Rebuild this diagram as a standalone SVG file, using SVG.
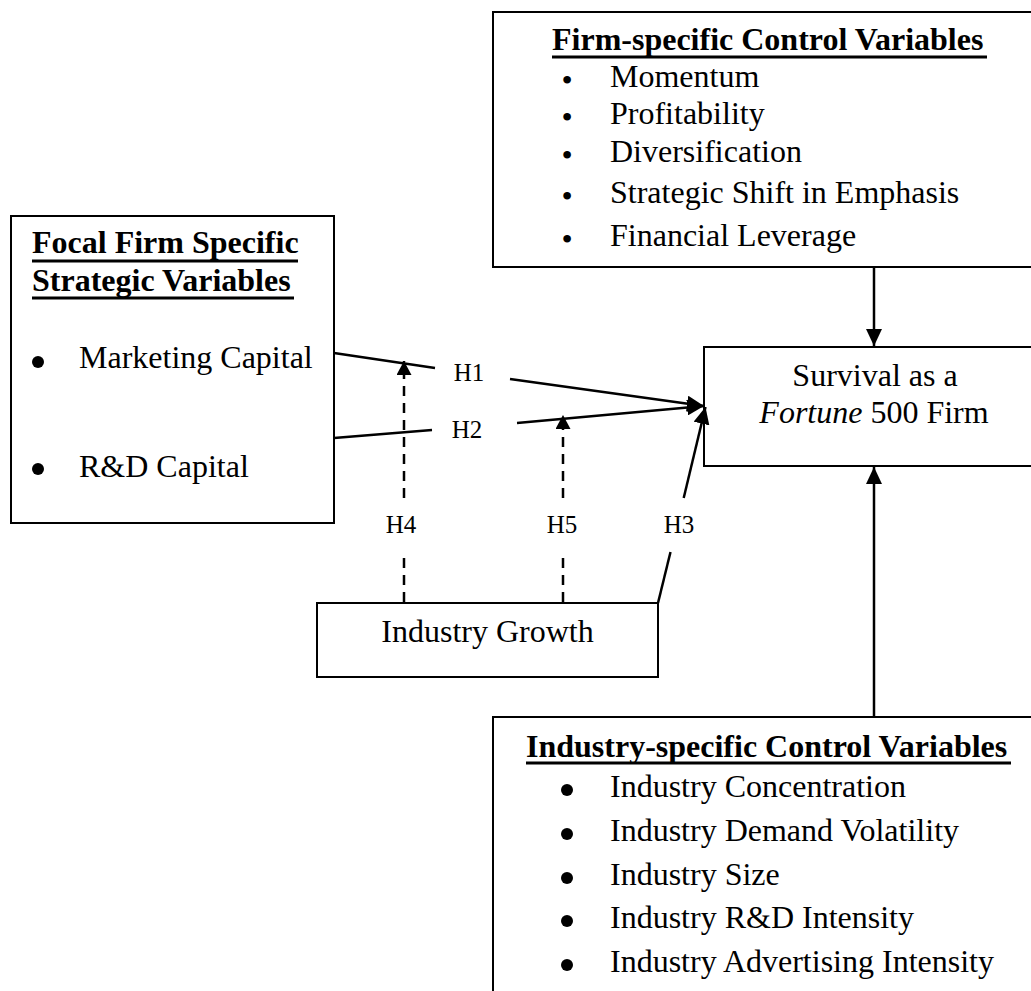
<svg xmlns="http://www.w3.org/2000/svg" width="1031" height="991" viewBox="0 0 1031 991">
<style>
.box{fill:#fff;stroke:#000;stroke-width:2}
.t{font-family:"Liberation Serif","Times New Roman",serif;font-size:32px;fill:#000}
.b{font-weight:bold}
.lbl{font-family:"Liberation Serif","Times New Roman",serif;font-size:25px;fill:#000;text-anchor:middle}
.ul{stroke:#000;stroke-width:3}
.c{fill:none;stroke:#000;stroke-width:2.5}
.d{fill:none;stroke:#000;stroke-width:2.5;stroke-dasharray:10 7}
</style>
<defs>
<marker id="ah" markerUnits="userSpaceOnUse" markerWidth="18" markerHeight="16" refX="17" refY="8" orient="auto"><path d="M0,0 L17,8 L0,16 z" fill="#000"/></marker>
<marker id="ahd" markerUnits="userSpaceOnUse" markerWidth="15" markerHeight="16" refX="14" refY="7.5" orient="auto"><path d="M0,0 L14,7.5 L0,15 z" fill="#000"/></marker>
</defs>
<rect width="1031" height="991" fill="#fff"/>
<g id="firm-controls">
<rect class="box" x="493" y="12" width="560" height="255"/>
<text class="t b" x="552" y="50">Firm-specific Control Variables</text>
<line class="ul" x1="552" y1="57" x2="987" y2="57"/>
<g class="t" text-anchor="middle">
<text x="567" y="91">•</text><text x="567" y="128">•</text><text x="567" y="166">•</text><text x="567" y="207">•</text><text x="567" y="250">•</text>
</g>
<text class="t" x="610" y="87">Momentum</text>
<text class="t" x="610" y="124">Profitability</text>
<text class="t" x="610" y="162">Diversification</text>
<text class="t" x="610" y="203">Strategic Shift in Emphasis</text>
<text class="t" x="610" y="246">Financial Leverage</text>
</g>
<g id="focal-firm">
<rect class="box" x="11" y="216" width="323" height="307"/>
<text class="t b" x="32" y="253">Focal Firm Specific</text>
<line class="ul" x1="32" y1="261" x2="298" y2="261"/>
<text class="t b" x="32" y="291">Strategic Variables</text>
<line class="ul" x1="32" y1="298" x2="294" y2="298"/>
<circle cx="38" cy="362" r="6"/>
<text class="t" x="79" y="368">Marketing Capital</text>
<circle cx="38" cy="469" r="6"/>
<text class="t" x="79" y="477">R&amp;D Capital</text>
</g>
<g id="survival">
<rect class="box" x="704" y="347" width="360" height="119"/>
<text class="t" x="875" y="386" text-anchor="middle">Survival as a</text>
<text class="t" x="874" y="423" text-anchor="middle"><tspan font-style="italic">Fortune</tspan> 500 Firm</text>
</g>
<g id="industry-growth">
<rect class="box" x="317" y="603" width="341" height="74"/>
<text class="t" x="487.5" y="642" text-anchor="middle">Industry Growth</text>
</g>
<g id="industry-controls">
<rect class="box" x="493" y="717" width="560" height="300"/>
<text class="t b" x="526" y="757">Industry-specific Control Variables</text>
<line class="ul" x1="526" y1="763" x2="1011" y2="763"/>
<circle cx="567" cy="790" r="6"/><circle cx="567" cy="834" r="6"/><circle cx="567" cy="878" r="6"/><circle cx="567" cy="921" r="6"/><circle cx="567" cy="965" r="6"/>
<text class="t" x="610" y="797">Industry Concentration</text>
<text class="t" x="610" y="841">Industry Demand Volatility</text>
<text class="t" x="610" y="885">Industry Size</text>
<text class="t" x="610" y="928">Industry R&amp;D Intensity</text>
<text class="t" x="610" y="972">Industry Advertising Intensity</text>
</g>
<g id="connectors">
<line class="c" x1="874" y1="268" x2="874" y2="346" marker-end="url(#ah)"/>
<line class="c" x1="874" y1="716" x2="874" y2="467" marker-end="url(#ah)"/>
<line class="c" x1="334" y1="353" x2="435" y2="368"/>
<line class="c" x1="510" y1="379" x2="704" y2="406" marker-end="url(#ah)"/>
<line class="c" x1="334" y1="438" x2="432" y2="430"/>
<line class="c" x1="517" y1="423" x2="704" y2="406" marker-end="url(#ah)"/>
<line class="c" x1="658" y1="603" x2="670.5" y2="552"/>
<line class="c" x1="683.7" y1="498" x2="705.5" y2="407" marker-end="url(#ah)"/>
<line class="d" x1="404" y1="602" x2="404" y2="552"/>
<line class="d" x1="404" y1="498" x2="404" y2="361" marker-end="url(#ahd)"/>
<line class="d" x1="563" y1="602" x2="563" y2="552"/>
<line class="d" x1="563" y1="498" x2="563" y2="415" marker-end="url(#ahd)"/>
<text class="lbl" x="469" y="381">H1</text>
<text class="lbl" x="467" y="438">H2</text>
<text class="lbl" x="401" y="533">H4</text>
<text class="lbl" x="562" y="533">H5</text>
<text class="lbl" x="679" y="533">H3</text>
</g>
</svg>
